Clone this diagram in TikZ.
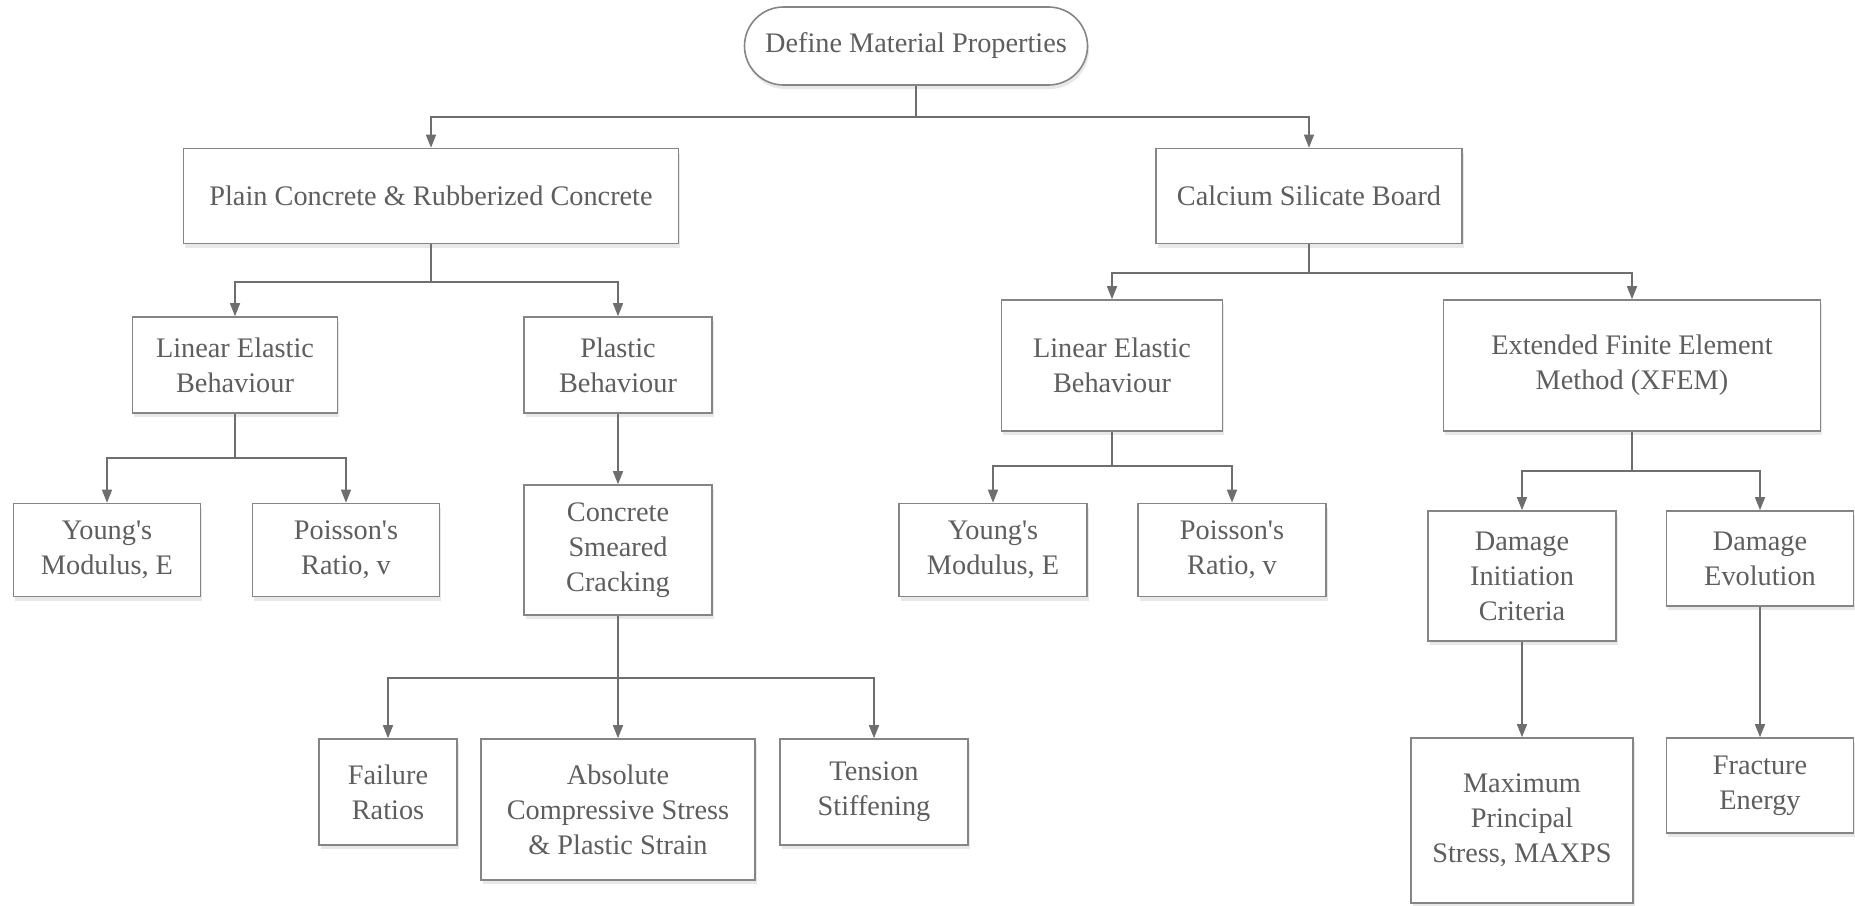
\documentclass[tikz,border=0pt]{standalone}
\usepackage{fontspec}
\setmainfont{Liberation Serif}
\usetikzlibrary{arrows.meta,shapes.misc,shadows}
\definecolor{txt}{HTML}{5E5E5E}
\definecolor{edge}{HTML}{858585}
\definecolor{conn}{HTML}{6E6E6E}
\begin{document}
\begin{tikzpicture}[x=1pt,y=-1pt,
  box/.style={draw=edge, line width=1.6pt, fill=white, rectangle, align=center,
    text=txt, inner sep=0pt, font=\fontsize{28.3}{35}\selectfont,
    drop shadow={opacity=0.18, shadow xshift=1.5pt, shadow yshift=-4pt}},
  wire/.style={draw=conn, line width=1.5pt},
  arr/.style={wire, -{Triangle[length=13pt,width=10pt]}}]
\useasboundingbox (0,0) rectangle (1855,905);
\node[box, rounded rectangle, minimum width=343pt, minimum height=78pt] (top) at (916,46) {Define Material Properties};
\node[box, minimum width=495pt, minimum height=95pt] (pc) at (431,196) {Plain Concrete \& Rubberized Concrete};
\node[box, minimum width=306pt, minimum height=95pt] (cs) at (1309,196) {Calcium Silicate Board};
\node[box, minimum width=205pt, minimum height=96pt] (le1) at (235,365) {Linear Elastic\\Behaviour};
\node[box, minimum width=188pt, minimum height=96pt] (pb) at (618,365) {Plastic\\Behaviour};
\node[box, minimum width=187pt, minimum height=93pt] (y1) at (107,550) {Young\textquotesingle s\\Modulus, E};
\node[box, minimum width=187pt, minimum height=93pt] (p1) at (346,550) {Poisson\textquotesingle s\\Ratio, v};
\node[box, minimum width=188pt, minimum height=130pt] (csc) at (618,550) {Concrete\\Smeared\\Cracking};
\node[box, minimum width=138pt, minimum height=106pt] (fr) at (388,792) {Failure\\Ratios};
\node[box, minimum width=274pt, minimum height=141pt] (abs) at (618,809.5) {Absolute\\Compressive Stress\\\& Plastic Strain};
\node[box, minimum width=188pt, minimum height=106pt] (ts) at (874,792) {Tension\\Stiffening};
\node[box, minimum width=221pt, minimum height=131pt] (le2) at (1112,365.5) {Linear Elastic\\Behaviour};
\node[box, minimum width=377pt, minimum height=131pt] (xf) at (1632,365.5) {Extended Finite Element\\Method (XFEM)};
\node[box, minimum width=188pt, minimum height=93pt] (y2) at (993,550) {Young\textquotesingle s\\Modulus, E};
\node[box, minimum width=188pt, minimum height=93pt] (p2) at (1232,550) {Poisson\textquotesingle s\\Ratio, v};
\node[box, minimum width=188pt, minimum height=130pt] (di) at (1522,576) {Damage\\Initiation\\Criteria};
\node[box, minimum width=187pt, minimum height=95pt] (de) at (1760,558.5) {Damage\\Evolution};
\node[box, minimum width=222pt, minimum height=165pt] (mp) at (1522,820.5) {Maximum\\Principal\\Stress, MAXPS};
\node[box, minimum width=187pt, minimum height=95pt] (fe) at (1760,785.5) {Fracture\\Energy};
\coordinate (j1) at (916,117);
\coordinate (j2) at (431,282);
\coordinate (j3) at (235,458);
\coordinate (j4) at (618,678);
\coordinate (j5) at (1309,273);
\coordinate (j6) at (1112,466);
\coordinate (j7) at (1632,471);
\draw[wire] (top.south) -- (j1);
\draw[arr] (j1) -| (pc.north);
\draw[arr] (j1) -| (cs.north);
\draw[wire] (pc.south) -- (j2);
\draw[arr] (j2) -| (le1.north);
\draw[arr] (j2) -| (pb.north);
\draw[wire] (le1.south) -- (j3);
\draw[arr] (j3) -| (y1.north);
\draw[arr] (j3) -| (p1.north);
\draw[arr] (pb.south) -- (csc.north);
\draw[arr] (csc.south) -- (abs.north);
\draw[arr] (j4) -| (fr.north);
\draw[arr] (j4) -| (ts.north);
\draw[wire] (cs.south) -- (j5);
\draw[arr] (j5) -| (le2.north);
\draw[arr] (j5) -| (xf.north);
\draw[wire] (le2.south) -- (j6);
\draw[arr] (j6) -| (y2.north);
\draw[arr] (j6) -| (p2.north);
\draw[wire] (xf.south) -- (j7);
\draw[arr] (j7) -| (di.north);
\draw[arr] (j7) -| (de.north);
\draw[arr] (di.south) -- (mp.north);
\draw[arr] (de.south) -- (fe.north);
\end{tikzpicture}
\end{document}
